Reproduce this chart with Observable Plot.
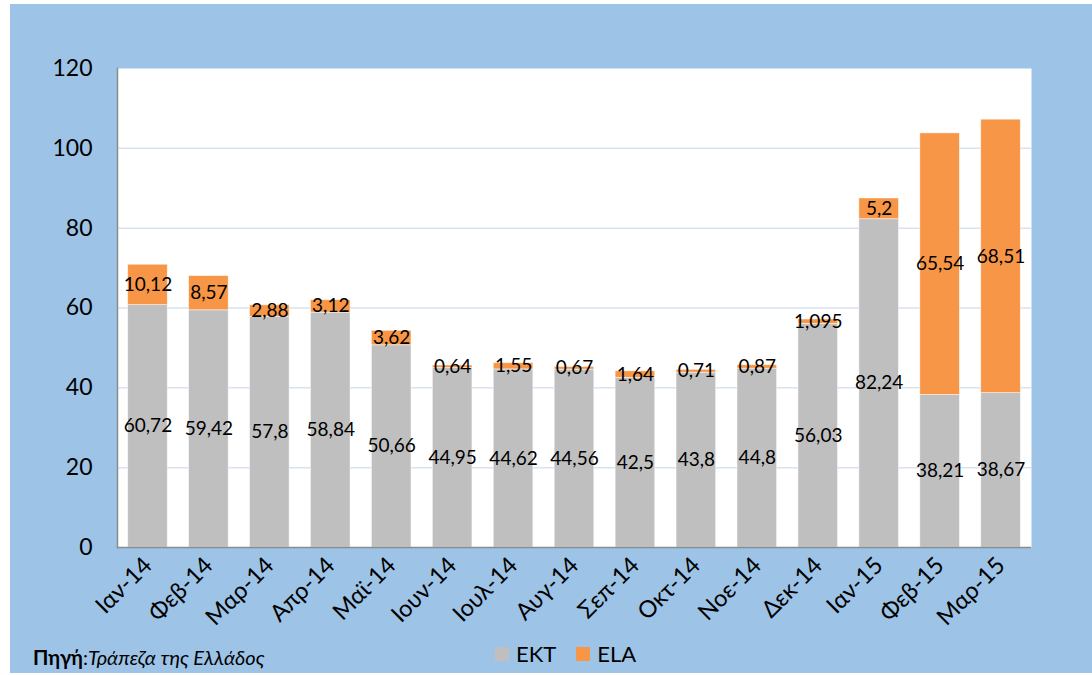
<!DOCTYPE html>
<html>
<head>
<meta charset="utf-8">
<script src="https://cdn.jsdelivr.net/npm/d3@7"></script>
<script src="https://cdn.jsdelivr.net/npm/@observablehq/plot@0.6"></script>
<style>
  html, body { margin: 0; padding: 0; background: #ffffff; }
  body { width: 1092px; height: 675px; position: relative; overflow: hidden; font-family: Lato, "Open Sans", sans-serif; }
  #bg { position: absolute; left: 10px; top: 4px; width: 1082px; height: 669px; background: #9DC3E6; }
  #chart { position: absolute; left: 0; top: 0; }
  #legend { position: absolute; left: 485px; top: 636px; display: flex; align-items: center; font-size: 22px; color: #000; }
  #legend .sw { width: 14px; height: 14px; display: inline-block; margin-right: 7px; }
  #legend .item { display: flex; align-items: center; margin-right: 20px; }
  #source { position: absolute; left: 23px; top: 641px; font-size: 20px; color: #000; }
</style>
</head>
<body>
<div id="bg">
  <div id="chart"></div>
  <div id="legend"></div>
  <div id="source"><b>Πηγή</b>:<i>Τράπεζα της Ελλάδος</i></div>
</div>
<script>
const months = ["Ιαν-14","Φεβ-14","Μαρ-14","Απρ-14","Μαϊ-14","Ιουν-14","Ιουλ-14","Αυγ-14","Σεπ-14","Οκτ-14","Νοε-14","Δεκ-14","Ιαν-15","Φεβ-15","Μαρ-15"];
const ekt = [60.72, 59.42, 57.8, 58.84, 50.66, 44.95, 44.62, 44.56, 42.5, 43.8, 44.8, 56.03, 82.24, 38.21, 38.67];
const ela = [10.12, 8.57, 2.88, 3.12, 3.62, 0.64, 1.55, 0.67, 1.64, 0.71, 0.87, 1.095, 5.2, 65.54, 68.51];
const series = ["ΕΚΤ", "ELA"];
const colors = ["#BFBFBF", "#F79646"];
const yTicks = [0, 20, 40, 60, 80, 100, 120];

const data = months.flatMap((m, i) => [
  {month: m, series: series[0], value: ekt[i]},
  {month: m, series: series[1], value: ela[i]}
]);
const fmt = v => String(v).replace(".", ",");

const chart = Plot.plot({
  width: 1082,
  height: 630,
  marginLeft: 107,
  marginRight: 61,
  marginTop: 64,
  marginBottom: 87,
  style: {fontFamily: "Lato, 'Open Sans', sans-serif", background: "transparent", color: "black"},
  x: {domain: months, paddingInner: 0.35, paddingOuter: 0.175, round: false, label: null},
  y: {domain: [0, 120], label: null},
  color: {domain: series, range: colors},
  marks: [
    Plot.frame({fill: "white", stroke: null}),
    Plot.ruleY(yTicks.filter(t => t > 0 && t < 120), {stroke: "#D9E2F1", strokeWidth: 1.5}),
    Plot.barY(data, {x: "month", y: "value", fill: "series", order: series, stroke: "white", strokeWidth: 0.8, strokeOpacity: 0.6}),
    Plot.text(data, Plot.stackY({x: "month", y: "value", z: "series", order: series, text: d => fmt(d.value), fontSize: 19, fill: "black"})),
    Plot.ruleY([0], {stroke: "#8C8C8C", strokeWidth: 1.5}),
    Plot.frame({anchor: "left", stroke: "#8C8C8C", strokeWidth: 1.5}),
    Plot.axisY({ticks: yTicks, tickSize: 0, tickPadding: 25, fontSize: 23, tickFormat: d => String(d), label: null}),
    Plot.axisX({tickRotate: -45, tickSize: 0, tickPadding: 14, fontSize: 23.5, label: null})
  ]
});
document.getElementById("chart").appendChild(chart);

const legend = document.getElementById("legend");
series.forEach((s, i) => {
  const item = document.createElement("span");
  item.className = "item";
  const sw = document.createElement("span");
  sw.className = "sw";
  sw.style.background = colors[i];
  item.appendChild(sw);
  item.appendChild(document.createTextNode(s));
  legend.appendChild(item);
});
</script>
</body>
</html>
